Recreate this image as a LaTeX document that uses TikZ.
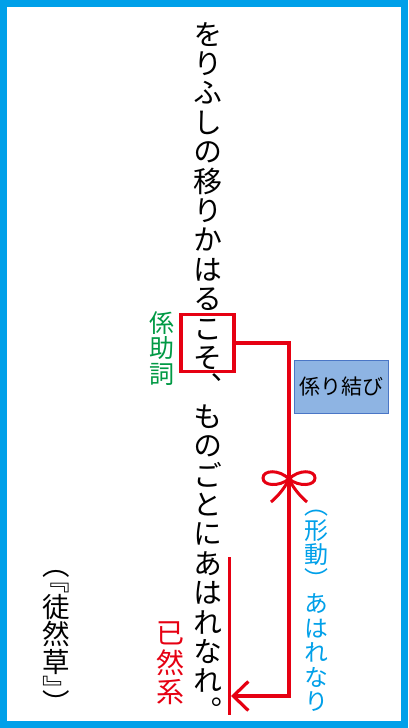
\documentclass[tikz,border=0pt]{standalone}
\usepackage{fontspec}
\usetikzlibrary{arrows.meta}
\newfontfamily\jpv[RawFeature=+vert]{Noto Sans CJK JP}
\newfontfamily\jph{Noto Sans CJK JP}
\definecolor{frameblue}{HTML}{00A0E9}
\definecolor{kred}{HTML}{E60012}
\definecolor{kgreen}{HTML}{009944}
\definecolor{lblue}{HTML}{00A0E9}
\definecolor{boxfill}{HTML}{8EB4E3}
\definecolor{boxline}{HTML}{4A76C6}
\tikzset{
  vch/.style={font={\jpv\fontsize{#1pt}{#1pt}\selectfont}, inner sep=0pt,
    text height=#1*0.88pt, text depth=#1*0.12pt, anchor=center},
  redline/.style={draw=kred, line width=3.2pt},
}
\begin{document}
\begin{tikzpicture}[x=1pt,y=-1pt]
\useasboundingbox (0,0) rectangle (408,728);
\fill[white] (0,0) rectangle (408,728);
% frame
\draw[frameblue, line width=7pt] (3.5,3.5) rectangle (404.5,724.5);
% main vertical text
\foreach \ch [count=\i] in {を,り,ふ,し,の,移,り,か,は,る,こ,そ,、,も,の,ご,と,に,あ,は,れ,な,れ,。}
  \node[vch=29] (m\i) at (208,{34+(\i-1)*29.4}) {\ch};
% green label
\foreach \ch/\yy [count=\i] in {係/323,助/347.5,詞/373.5}
  \node[vch=25, text=kgreen] (g\i) at (161.5,\yy) {\ch};
% blue label
\foreach \ch/\yy [count=\i] in {（/505.5,形/530,動/554.5,）/579,あ/603.5,は/628,れ/652.5,な/677,り/701.5}
  \node[vch=24, text=lblue] (b\i) at (316,\yy) {\ch};
% red label
\foreach \ch/\yy [count=\i] in {已/632.5,然/662.5,系/691.5}
  \node[vch=28, text=kred] (r\i) at (170,\yy) {\ch};
% source
\foreach \ch/\yy [count=\i] in {（/565,『/580,徒/607,然/634.5,草/662,』/689,）/703}
  \node[vch=27.5] (s\i) at (56,\yy) {\ch};
% box around こそ
\node[draw=kred, line width=3.2pt, minimum width=53pt, minimum height=57pt, inner sep=0pt] (kbox) at (207.5,343) {};
% kakari-musubi box
\node[draw=boxline, line width=1pt, fill=boxfill, minimum width=94pt, minimum height=53pt, inner sep=0pt,
  font={\jph\fontsize{21pt}{21pt}\selectfont}] (kakari) at (341,386.5) {係り結び};
% connector
\coordinate (bend) at (289,696);
\coordinate (tip) at (231,696);
\draw[redline, -{Straight Barb[length=15pt, width=29pt, line width=3.2pt]}] (kbox.east) -| (bend) -- (tip);
% left bar
\coordinate (bartop) at (229.5,557);
\coordinate (barbot) at (229.5,715);
\draw[kred, line width=3.5pt] (bartop) -- (barbot);
% bow
\coordinate (knot) at (289,479);
\begin{scope}[shift={(knot)}, draw=kred, line width=3pt]
  \draw (0,0) .. controls (-10,-10) and (-26,-9) .. (-26,-1) .. controls (-26,7) and (-10,8) .. (0,0);
  \draw (0,0) .. controls (10,-10) and (26,-9) .. (26,-1) .. controls (26,7) and (10,8) .. (0,0);
  \draw (-1,2) .. controls (-5,10) and (-12,18) .. (-18,23);
  \draw (1,2) .. controls (5,10) and (12,18) .. (18,23);
\end{scope}
\end{tikzpicture}
\end{document}
